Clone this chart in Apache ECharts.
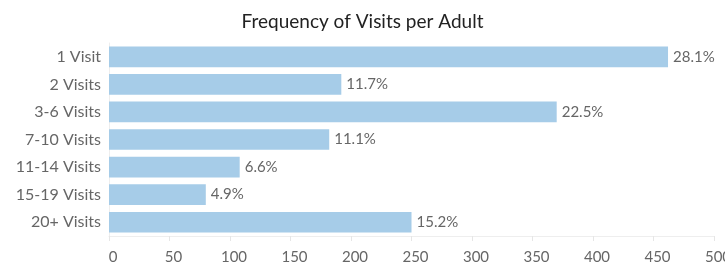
<!DOCTYPE html>
<html>
<head>
<meta charset="utf-8">
<script src="https://cdn.jsdelivr.net/npm/echarts@6/dist/echarts.min.js"></script>
<style>
    html, body { margin: 0; padding: 0; background: #fff; }
    #chart { width: 725px; height: 267px; }
</style>
</head>
<body>
<div id="chart"></div>
<script>
const varFont = 'Lato';

const categories = ['1 Visit', '2 Visits', '3-6 Visits', '7-10 Visits', '11-14 Visits', '15-19 Visits', '20+ Visits'];
const visitCounts = [462, 192, 370, 182, 108, 80, 250];
const percentLabels = ['28.1%', '11.7%', '22.5%', '11.1%', '6.6%', '4.9%', '15.2%'];

function createChart(elementId, optionChart) {
    var myChart = echarts.init(document.getElementById(`${elementId}`));
    myChart.setOption(optionChart);
};

var option = {
    animation: false,
    textStyle: {
        fontFamily: varFont,
    },
    title: {
        text: 'Frequency of Visits per Adult',
        left: 'center',
        top: 7,
        textStyle: {
            fontFamily: varFont,
            fontSize: 19,
            fontWeight: 'normal',
            color: '#222',
        },
    },
    grid: {
        left: 109,
        right: 11,
        top: 43,
        bottom: 31,
        outerBoundsMode: 'none',
    },
    xAxis: {
        type: 'value',
        min: 0,
        max: 500,
        interval: 50,
        axisLine: {
            show: true,
            lineStyle: { color: '#eee' },
        },
        axisTick: {
            show: true,
            length: 5,
            lineStyle: { color: '#e6e6e6' },
        },
        splitLine: { show: false },
        axisLabel: {
            color: '#666',
            fontSize: 15,
            margin: 14,
            padding: [0, 0, 0, 8],
        },
    },
    yAxis: {
        type: 'category',
        data: categories,
        inverse: true,
        axisLine: {
            show: true,
            lineStyle: { color: '#eee' },
        },
        axisTick: { show: false },
        axisLabel: {
            color: '#666',
            fontSize: 16,
            margin: 8,
        },
    },
    series: [
        {
            name: 'Visits',
            type: 'bar',
            data: visitCounts,
            barCategoryGap: '25%',
            itemStyle: {
                color: '#a6cce8',
            },
            label: {
                show: true,
                position: 'right',
                distance: 5,
                color: '#666',
                fontSize: 15,
                formatter: (p) => percentLabels[p.dataIndex],
            },
        }
    ],
};

createChart('chart', option);
</script>
</body>
</html>
